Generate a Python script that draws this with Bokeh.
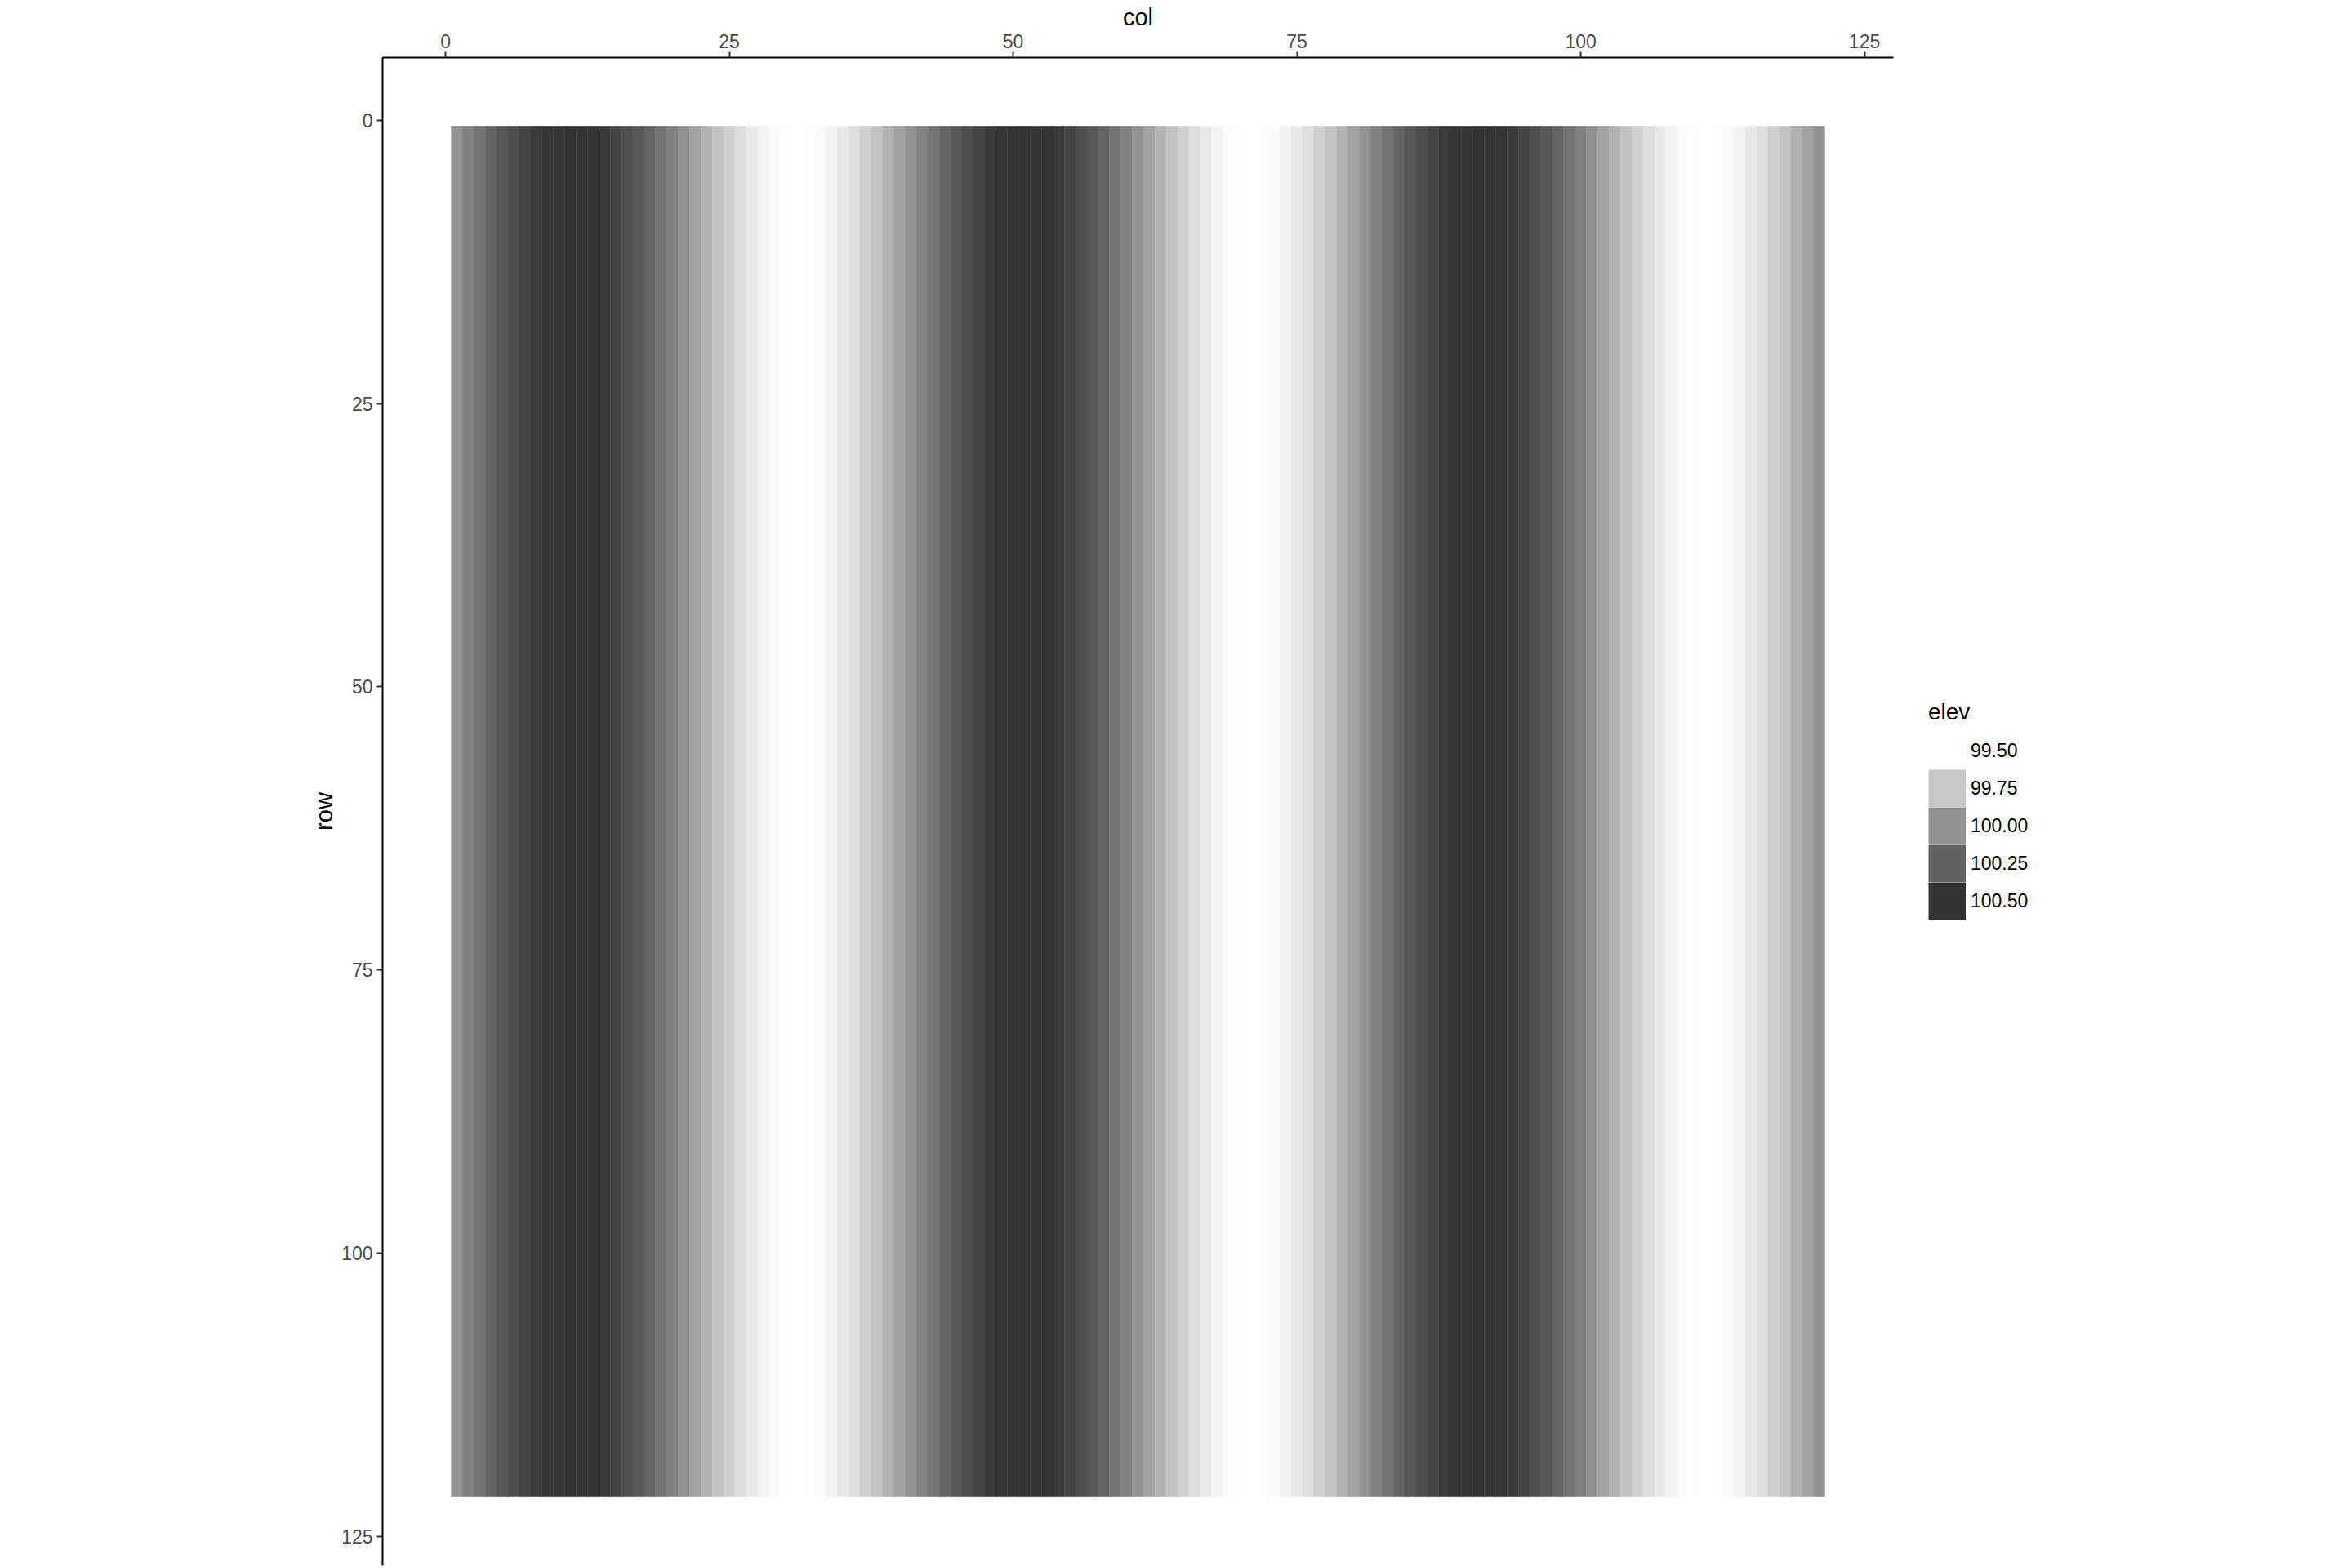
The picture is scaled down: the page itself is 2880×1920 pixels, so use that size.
import numpy as np
from bokeh.plotting import figure
from bokeh.models import (Range1d, LinearColorMapper, Legend, LegendItem,
                          ColumnDataSource, FixedTicker)
from bokeh.transform import transform
from bokeh.embed import file_html
from bokeh.resources import INLINE

# ---------------- data ----------------
cols = list(range(1, 122))
rows = list(range(1, 122))
elev = [
    100.00, 100.08, 100.15, 100.23, 100.29, 100.35, 100.40, 100.45, 100.48, 100.49,
    100.50, 100.49, 100.48, 100.45, 100.40, 100.35, 100.29, 100.23, 100.15, 100.08,
    100.00, 99.92, 99.85, 99.77, 99.71, 99.65, 99.60, 99.55, 99.52, 99.51,
    99.50, 99.51, 99.52, 99.55, 99.60, 99.65, 99.71, 99.77, 99.85, 99.92,
    100.00, 100.08, 100.15, 100.23, 100.29, 100.35, 100.40, 100.45, 100.48, 100.49,
    100.50, 100.49, 100.48, 100.45, 100.40, 100.35, 100.29, 100.23, 100.15, 100.08,
    100.00, 99.92, 99.85, 99.77, 99.71, 99.65, 99.60, 99.55, 99.52, 99.51,
    99.50, 99.51, 99.52, 99.55, 99.60, 99.65, 99.71, 99.77, 99.85, 99.92,
    100.00, 100.08, 100.15, 100.23, 100.29, 100.35, 100.40, 100.45, 100.48, 100.49,
    100.50, 100.49, 100.48, 100.45, 100.40, 100.35, 100.29, 100.23, 100.15, 100.08,
    100.00, 99.92, 99.85, 99.77, 99.71, 99.65, 99.60, 99.55, 99.52, 99.51,
    99.50, 99.51, 99.52, 99.55, 99.60, 99.65, 99.71, 99.77, 99.85, 99.92,
    100.00,
]
legend_breaks = [99.50, 99.75, 100.00, 100.25, 100.50]
legend_labels = ["99.50", "99.75", "100.00", "100.25", "100.50"]
x_ticks = [0, 25, 50, 75, 100, 125]
y_ticks = [0, 25, 50, 75, 100, 125]

# ---------------- colour scale (Lab interpolation white -> grey20) ----------------
def _srgb_to_lin(c):
    return c / 12.92 if c <= 0.04045 else ((c + 0.055) / 1.055) ** 2.4

def _lin_to_srgb(c):
    return 12.92 * c if c <= 0.0031308 else 1.055 * c ** (1 / 2.4) - 0.055

def _L_of_gray(v):
    Y = _srgb_to_lin(v / 255.0)
    f = Y ** (1 / 3) if Y > 0.008856 else (7.787 * Y + 16 / 116)
    return 116 * f - 16

L_lo, L_hi = _L_of_gray(255), _L_of_gray(0x33)

def gray_at(t):
    L = L_lo + (L_hi - L_lo) * t
    fy = (L + 16) / 116
    Y = fy ** 3 if fy ** 3 > 0.008856 else (fy - 16 / 116) / 7.787
    g = int(round(min(max(_lin_to_srgb(Y), 0), 1) * 255))
    return "#%02x%02x%02x" % (g, g, g)

palette = [gray_at(i / 255) for i in range(256)]
lo, hi = min(legend_breaks), max(legend_breaks)
mapper = LinearColorMapper(palette=palette, low=lo, high=hi)

# ---------------- figure ----------------
xpad = (max(cols) - min(cols) + 1) * 0.05
ypad = (max(rows) - min(rows) + 1) * 0.05
x0, x1 = min(cols) - 0.5 - xpad, max(cols) + 0.5 + xpad
y0, y1 = min(rows) - 0.5 - ypad, max(rows) + 0.5 + ypad

p = figure(frame_width=1850, frame_height=1846,
           x_range=Range1d(x0, x1), y_range=Range1d(y1, y0),
           x_axis_location="above", y_axis_location="left",
           output_backend="svg", toolbar_location=None,
           min_border_left=468, min_border_top=70,
           min_border_right=562, min_border_bottom=4)
p.outline_line_color = None
p.xgrid.visible = False
p.ygrid.visible = False
p.background_fill_color = "white"
p.border_fill_color = "white"

src = ColumnDataSource(dict(
    left=[c - 0.5 for c in cols],
    right=[c + 0.5 for c in cols],
    top=[min(rows) - 0.5] * len(cols),
    bottom=[max(rows) + 0.5] * len(cols),
    elev=elev,
))
p.quad(left="left", right="right", top="top", bottom="bottom", source=src,
       fill_color=transform("elev", mapper), line_color=transform("elev", mapper),
       line_width=0.6)

FONT = "Liberation Sans"
for ax, ticks, lab in ((p.xaxis[0], x_ticks, "col"), (p.yaxis[0], y_ticks, "row")):
    ax.ticker = FixedTicker(ticks=ticks)
    ax.axis_label = lab
    ax.axis_label_text_font = FONT
    ax.axis_label_text_font_size = "29px"
    ax.axis_label_text_font_style = "normal"
    ax.axis_label_text_color = "black"
    ax.axis_label_standoff = 2
    ax.major_label_text_font = FONT
    ax.major_label_text_font_size = "23px"
    ax.major_label_text_color = "#4d4d4d"
    ax.major_label_standoff = 5
    ax.axis_line_color = "black"
    ax.axis_line_width = 2
    ax.major_tick_line_color = "#333333"
    ax.major_tick_line_width = 2
    ax.major_tick_out = 7
    ax.major_tick_in = 0
    ax.minor_tick_line_color = None

# ---------------- legend ----------------
# single-point line renderers (draw nothing in the plot area); in the legend a
# thick butt-capped line fills the whole key box, giving contiguous swatches
KEY = 46
items = []
for b, lab in zip(legend_breaks, legend_labels):
    col = palette[int(round((b - lo) / (hi - lo) * 255))]
    r = p.line(x="x", y="y",
               source=ColumnDataSource(dict(x=[cols[0]], y=[rows[0]])),
               line_color=col, line_width=KEY, line_cap="butt")
    items.append(LegendItem(label=lab, renderers=[r]))

legend = Legend(items=items, title="elev",
                location=(43, 790),
                glyph_width=KEY, glyph_height=KEY, label_height=KEY,
                spacing=0, padding=0, margin=0,
                label_standoff=6,
                label_text_font=FONT, label_text_font_size="23px",
                label_text_color="black",
                title_text_font=FONT, title_text_font_size="28px",
                title_text_font_style="normal", title_text_color="black",
                title_standoff=8,
                border_line_color=None, background_fill_alpha=0)
p.add_layout(legend, "right")

open("out.html", "w").write(file_html(p, INLINE))
